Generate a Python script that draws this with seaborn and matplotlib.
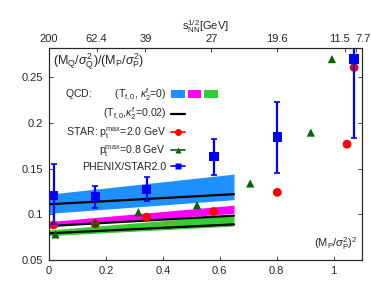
import matplotlib
matplotlib.use("Agg")
import matplotlib.pyplot as plt
import matplotlib.transforms as mtransforms
import seaborn as sns
from matplotlib.lines import Line2D
from matplotlib.patches import Patch, Rectangle

# QCD bands, (Tf0, kappa2f = 0) and lines (kappa2f = 0.02)
band_x = [0.0, 0.65]
blue_lo = [0.101, 0.116]
blue_hi = [0.122, 0.144]
mag_lo = [0.0865, 0.101]
mag_hi = [0.092, 0.110]
grn_lo = [0.0766, 0.0872]
grn_hi = [0.0829, 0.0993]
line_blue = [0.111, 0.122]
line_mag = [0.0872, 0.0985]
line_grn = [0.0792, 0.089]

# PHENIX/STAR2.0 with errors
phenix_x = [0.016, 0.163, 0.343, 0.58, 0.802, 1.072]
phenix_y = [0.1205, 0.1193, 0.1274, 0.163, 0.1844, 0.2698]
phenix_lo = [0.089, 0.107, 0.1146, 0.143, 0.145, 0.183]
phenix_hi = [0.155, 0.1314, 0.1406, 0.182, 0.223, 0.33]

# STAR pt max = 2.0 GeV
star20_x = [0.016, 0.163, 0.343, 0.578, 0.802, 1.047, 1.072]
star20_y = [0.0883, 0.0894, 0.0968, 0.103, 0.124, 0.1767, 0.2606]
# STAR pt max = 0.8 GeV
star08_x = [0.023, 0.163, 0.314, 0.52, 0.707, 0.92, 0.994]
star08_y = [0.078, 0.0909, 0.1022, 0.110, 0.1337, 0.1894, 0.2698]

# top axis: collision energies
top_pos = [0.0, 0.167, 0.339, 0.57, 0.80, 1.04, 1.08]
top_lab = ["200", "62.4", "39", "27", "19.6", "11.5", "7.7"]

c_blue = "#1E90FF"
c_mag = "#FF00FF"
c_grn = "#32CD32"


class ThreeBoxes:
    # draw the three colour boxes of the QCD row side by side
    def legend_artist(self, legend, orig_handle, fontsize, handlebox):
        x0, y0 = -handlebox.xdescent, -handlebox.ydescent
        w, h = handlebox.width, handlebox.height
        last = None
        for i, p in enumerate(orig_handle):
            last = Rectangle((x0 + i * w * 1.18, y0 - 0.1 * h), w, h * 1.2,
                             facecolor=p.get_facecolor(), edgecolor="none",
                             transform=handlebox.get_transform())
            handlebox.add_artist(last)
        return last


sns.set_style("ticks")
plt.rcParams["font.family"] = ["Liberation Sans", "DejaVu Sans"]
plt.rcParams["mathtext.fontset"] = "custom"
plt.rcParams["mathtext.rm"] = "Liberation Sans"
plt.rcParams["mathtext.it"] = "Liberation Sans:italic"

fig = plt.figure(figsize=(3.71, 2.82), dpi=100)
ax = fig.add_axes([0.132, 0.078, 0.844, 0.752])

ax.fill_between(band_x, blue_lo, blue_hi, color=c_blue, lw=0, zorder=1)
ax.fill_between(band_x, mag_lo, mag_hi, color=c_mag, lw=0, zorder=1)
ax.fill_between(band_x, grn_lo, grn_hi, color=c_grn, lw=0, zorder=1)
for ly in [line_blue, line_mag, line_grn]:
    sns.lineplot(x=band_x, y=ly, color="black", lw=1.6, ax=ax, zorder=2)

ax.errorbar(phenix_x, phenix_y,
            yerr=[[y - l for y, l in zip(phenix_y, phenix_lo)],
                  [h - y for y, h in zip(phenix_y, phenix_hi)]],
            fmt="none", ecolor="#0000FF", elinewidth=1.6, capsize=2, capthick=1.2, zorder=4)
sns.scatterplot(x=star20_x, y=star20_y, color="#FF0000", marker="o", s=40,
                edgecolor="none", ax=ax, zorder=3)
sns.scatterplot(x=star08_x, y=star08_y, color="#006400", marker="^", s=35,
                edgecolor="none", ax=ax, zorder=3)
sns.scatterplot(x=phenix_x, y=phenix_y, color="#0000FF", marker="s", s=45,
                edgecolor="none", ax=ax, zorder=5)

ax.set_xlim(0, 1.1)
ax.set_ylim(0.05, 0.282)
ax.set_xticks([0, 0.2, 0.4, 0.6, 0.8, 1.0])
ax.set_xticklabels(["0", "0.2", "0.4", "0.6", "0.8", "1"])
ax.set_yticks([0.05, 0.1, 0.15, 0.2, 0.25])
ax.set_yticklabels(["0.05", "0.1", "0.15", "0.2", "0.25"])
ax.tick_params(direction="in", length=3, width=0.6, labelsize=8, right=True, pad=4)
for s in ax.spines.values():
    s.set_linewidth(0.8)

top = ax.twiny()
top.set_xlim(ax.get_xlim())
top.set_xticks(top_pos)
top.set_xticklabels(top_lab)
top.tick_params(direction="in", length=3, width=0.6, labelsize=8, pad=3)
top.set_xlabel(r"$\mathrm{s_{NN}^{1/2}}$[GeV]", fontsize=8, labelpad=3)
# the two last energy labels sit close together, nudge them apart
tl = top.get_xticklabels()
for lab, dx in [(tl[-2], -4), (tl[-1], 5)]:
    lab.set_transform(lab.get_transform() +
                      mtransforms.ScaledTranslation(dx / 72, 0, fig.dpi_scale_trans))

ax.text(0.013, 0.985, r"$(\mathrm{M_Q}/\sigma^2_\mathrm{Q})/(\mathrm{M_P}/\sigma^2_\mathrm{P})$",
        transform=ax.transAxes, ha="left", va="top", fontsize=9)
ax.text(0.985, 0.04, r"$(\mathrm{M_P}/\sigma^2_\mathrm{P})^2$",
        transform=ax.transAxes, ha="right", va="bottom", fontsize=8)

handles = [
    (Patch(color=c_blue), Patch(color=c_mag), Patch(color=c_grn)),
    Line2D([], [], color="black", lw=1.6),
    Line2D([], [], color="#FF0000", lw=1.2, marker="o", ms=5, mec="none"),
    Line2D([], [], color="#006400", lw=1.2, marker="^", ms=5, mec="none"),
    Line2D([], [], color="#0000FF", lw=1.2, marker="s", ms=5, mec="none"),
]
labels = [
    r"QCD:        (T$_\mathrm{f,0}$, $\kappa_2^\mathrm{f}$=0)",
    r"(T$_\mathrm{f,0}$,$\kappa_2^\mathrm{f}$=0.02)",
    r"STAR: p$_\mathrm{t}^\mathrm{max}$=2.0 GeV",
    r"p$_\mathrm{t}^\mathrm{max}$=0.8 GeV",
    "PHENIX/STAR2.0",
]
ax.legend(handles, labels, handler_map={tuple: ThreeBoxes()}, markerfirst=False,
          loc="upper right", bbox_to_anchor=(0.435, 0.82), frameon=False,
          fontsize=7.6, handlelength=1.3, handletextpad=0.5, labelspacing=0.28,
          borderpad=0, borderaxespad=0)

fig.savefig("out.png", dpi=100)
